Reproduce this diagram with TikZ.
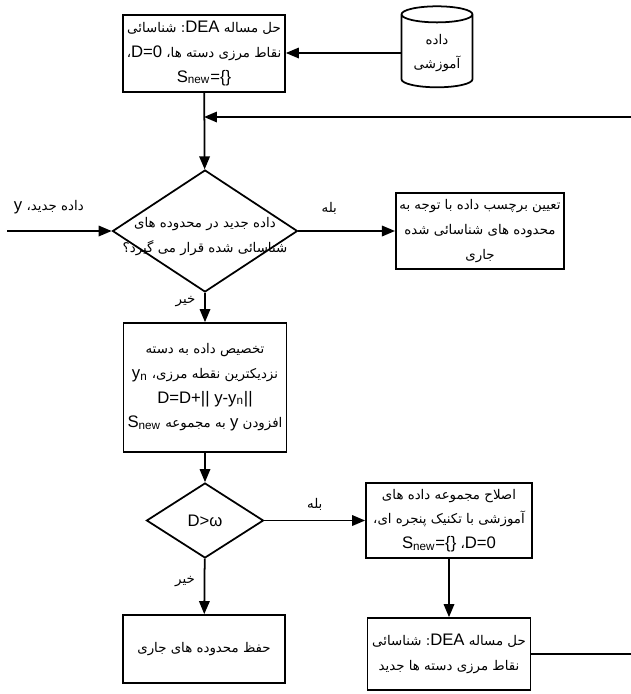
\documentclass[tikz,border=0pt]{standalone}
\usepackage{fontspec}
\setmainfont{Liberation Sans}
\newfontfamily\arabicfont[Script=Arabic,Scale=0.8]{DejaVu Sans}
\newfontfamily\latinfont{Liberation Sans}
\usetikzlibrary{shapes.geometric,arrows.meta}
\TeXXeTstate=1
\newcommand\fatext[1]{{\arabicfont\beginR #1\endR}}
\newcommand\entext[1]{{\latinfont\beginL #1\endL}}

\begin{document}
\begin{tikzpicture}[x=0.02cm,y=-0.02cm,line width=1pt,font=\fontsize{9.5}{14}\selectfont,
        box style/.style={draw,rectangle,align=center,inner sep=2pt},
        decision style/.style={draw,diamond,inner sep=0pt},
        store style/.style={draw,cylinder,shape border rotate=90,aspect=0.3,align=center,inner sep=2pt},
        flow/.style={-{Triangle[length=2.6mm,width=2.1mm]}},
        edge label/.style={inner sep=1pt}]
        \useasboundingbox (0,0) rectangle (631,694);
        \node[box style,minimum width=3.24cm,minimum height=1.54cm] (dea1) at (204,53.5) {\fatext{حل مساله \entext{DEA}: شناسائی}\\ \fatext{نقاط مرزی دسته ها، \entext{D=0}،}\\ S\textsubscript{new}=\{\}};
        \node[store style,minimum width=1.42cm,minimum height=1.62cm] (train) at (437,53) {\fatext{داده}\\ \fatext{آموزشی}};
        \node[decision style,minimum width=3.7cm,minimum height=2.44cm] (q1) at (205,231) {};
        \node[align=center,inner sep=0pt] (q1 text) at ([yshift=-3pt]q1.center) {\fatext{داده جدید در محدوده های}\\ \fatext{شناسائی شده قرار می گیرد؟}};
        \node[box style,minimum width=3.2cm,minimum height=1.52cm] (res1) at (480,231) {\fatext{تعیین برچسب داده با توجه به}\\ \fatext{محدوده های شناسائی شده}\\ \fatext{جاری}};
        \node[box style,minimum width=3.26cm,minimum height=2.58cm] (assign) at (205,387.5) {\fatext{تخصیص داده به دسته}\\ \fatext{نزدیکترین نقطه مرزی، \entext{y\textsubscript{n}}}\\ D=D+|| y-y\textsubscript{n}||\\ \fatext{افزودن \entext{y} به مجموعه \entext{S\textsubscript{new}}}};
        \node[decision style,minimum width=2.34cm,minimum height=1.5cm] (q2) at (205,520.5) {};
        \node (q2 text) at (q2.center) {D>ω};
        \node[box style,minimum width=3.32cm,minimum height=1.5cm] (fix) at (449,520.5) {\fatext{اصلاح مجموعه داده های}\\ \fatext{آموزشی با تکنیک پنجره ای،}\\ \fatext{\entext{D=0}، \entext{S\textsubscript{new}=\{\}}}};
        \node[box style,minimum width=3.26cm,minimum height=1.44cm] (dea2) at (449,654) {\fatext{حل مساله \entext{DEA}: شناسائی}\\ \fatext{نقاط مرزی دسته ها جدید}};
        \node[box style,minimum width=3.24cm,minimum height=1.36cm] (keep) at (204,649) {\fatext{حفظ محدوده های جاری}};
        \coordinate (back) at (631,117);
        \coordinate (input) at (7,231);
        \coordinate (out) at (631,654);
        % connectors
        \draw[flow] (train.west) -- (train.west -| dea1.east);
        \draw[flow] (dea1) -- (q1);
        \draw[flow] (back) -- (back -| dea1.south);
        \draw[flow] (input) -- node[edge label,pos=0.4,above=8pt] {\fatext{داده جدید، \entext{y}}} (q1);
        \draw[flow] (q1) -- node[edge label,pos=0.32,above=8pt] {\fatext{بله}} (res1);
        \draw[flow] (q1) -- node[edge label,pos=0.3,left=4pt] {\fatext{خیر}} (assign);
        \draw[flow] (assign) -- (q2);
        \draw[flow] (q2) -- node[edge label,pos=0.5,above=4pt] {\fatext{بله}} (fix);
        \draw[flow] (fix) -- (dea2);
        \draw[flow] (q2) -- node[edge label,pos=0.42,left=4pt] {\fatext{خیر}} (keep);
        \draw (dea2.east) -- (out);
    \end{tikzpicture}
\end{document}
